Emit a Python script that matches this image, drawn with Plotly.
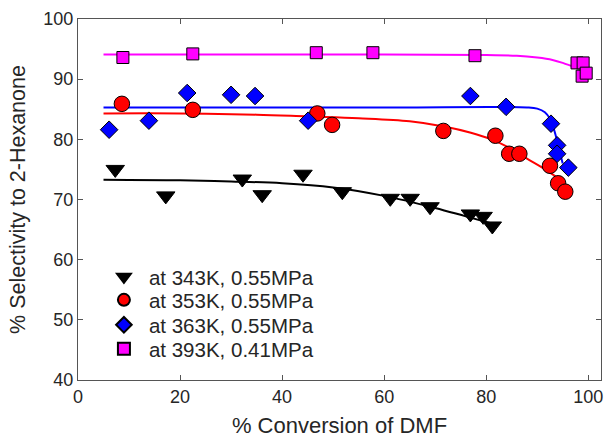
import plotly.graph_objects as go

# Measured data
x343 = [7.3, 17.2, 32.2, 36.1, 44.1, 51.8, 61.2, 65.1, 69.0, 76.9, 79.4, 81.2]
y343 = [75.0, 70.6, 73.4, 70.8, 74.2, 71.3, 70.2, 70.2, 68.8, 67.6, 67.2, 65.6]

x353 = [8.6, 22.5, 46.9, 49.8, 71.6, 81.8, 84.5, 86.5, 92.5, 94.1, 95.5]
y353 = [85.9, 84.9, 84.3, 82.4, 81.4, 80.6, 77.6, 77.6, 75.6, 72.7, 71.3]

x363 = [6.1, 13.9, 21.4, 30.0, 34.7, 45.1, 76.9, 83.9, 92.7, 93.9, 93.9, 96.1]
y363 = [81.6, 83.1, 87.7, 87.4, 87.2, 83.1, 87.2, 85.4, 82.6, 79.0, 77.6, 75.3]

x393 = [8.8, 22.5, 46.7, 57.8, 77.8, 97.8, 99.0, 98.8, 99.6]
y393 = [93.6, 94.2, 94.4, 94.4, 93.9, 92.7, 92.7, 90.5, 91.0]

# Fitted curves
fx343 = [5, 20, 30, 40, 50, 60, 70, 76, 82]
fy343 = [73.3, 73.2, 73.0, 72.7, 72.0, 70.6, 68.6, 67.2, 65.8]

fx353 = [5, 20, 35, 45, 55, 65, 72, 77, 81, 85, 88, 91, 94]
fy353 = [84.3, 84.3, 84.1, 83.8, 83.5, 83.0, 82.1, 81.1, 80.0, 78.4, 76.8, 75.3, 73.6]

fx363 = [5, 60, 88, 90, 91.5, 92.5, 93.3, 94.0, 94.5, 95.0]
fy363 = [85.3, 85.3, 85.3, 85.1, 84.5, 83.4, 81.6, 79.4, 77.6, 76.0]

fx393 = [5, 60, 80, 86, 90, 93, 95, 97.8]
fy393 = [94.1, 94.1, 94.0, 93.9, 93.6, 93.2, 92.7, 91.8]

names = ["at 343K, 0.55MPa", "at 353K, 0.55MPa", "at 363K, 0.55MPa", "at 393K, 0.41MPa"]
colors = ["#000000", "#ff0000", "#0000ff", "#ff00ff"]
symbols = ["triangle-down", "circle", "diamond", "square"]
sizes = [16, 15.5, 13.5, 12]

FONT = "Liberation Sans, Arial"

fig = go.Figure()
fits = [(fx343, fy343), (fx353, fy353), (fx363, fy363), (fx393, fy393)]
for (fx, fy), c in zip(fits, colors):
    fig.add_trace(go.Scatter(x=fx, y=fy, mode="lines", line=dict(color=c, width=2, shape="spline"),
                             showlegend=False, hoverinfo="skip"))

legend_ids = ["legend", "legend2", "legend3", "legend4"]
pts = [(x343, y343), (x353, y353), (x363, y363), (x393, y393)]
for (px, py), c, s, sz, n, lg in zip(pts, colors, symbols, sizes, names, legend_ids):
    fig.add_trace(go.Scatter(x=px, y=py, mode="markers", name=n, legend=lg,
                             marker=dict(color=c, symbol=s, size=sz, line=dict(color="black", width=1))))

axis_common = dict(showline=True, linecolor="#555555", linewidth=1, mirror="ticks", ticks="inside",
                   ticklen=5, tickcolor="#555555", showgrid=False, zeroline=False, automargin=False,
                   tickfont=dict(family=FONT, size=18, color="#262626"))

fig.update_xaxes(range=[0, 102.5], tickvals=[0, 20, 40, 60, 80, 100],
                 title=dict(text="% Conversion of DMF", font=dict(family=FONT, size=22, color="#262626"), standoff=12),
                 **axis_common)
fig.update_yaxes(range=[40, 100], tickvals=[40, 50, 60, 70, 80, 90, 100],
                 title=dict(text="% Selectivity to 2-Hexanone", font=dict(family=FONT, size=21.5, color="#262626"), standoff=11),
                 **axis_common)

leg_common = dict(x=0.04, xanchor="left", yanchor="middle", bgcolor="rgba(0,0,0,0)",
                  font=dict(family=FONT, size=20.5, color="#262626"), itemsizing="constant", itemwidth=40)
# legend row centres (paper fraction of plot height)
leg_rows = [0.2853, 0.2216, 0.1524, 0.0859]

fig.update_layout(
    width=605, height=438,
    margin=dict(l=78, r=4, t=19, b=58, autoexpand=False),
    plot_bgcolor="white", paper_bgcolor="white",
    legend=dict(y=leg_rows[0], **leg_common),
    legend2=dict(y=leg_rows[1], **leg_common),
    legend3=dict(y=leg_rows[2], **leg_common),
    legend4=dict(y=leg_rows[3], **leg_common),
)

fig.write_html("out.html", config={"displayModeBar": False},
               post_script="document.body.style.margin='0';document.body.style.overflow='hidden';")
